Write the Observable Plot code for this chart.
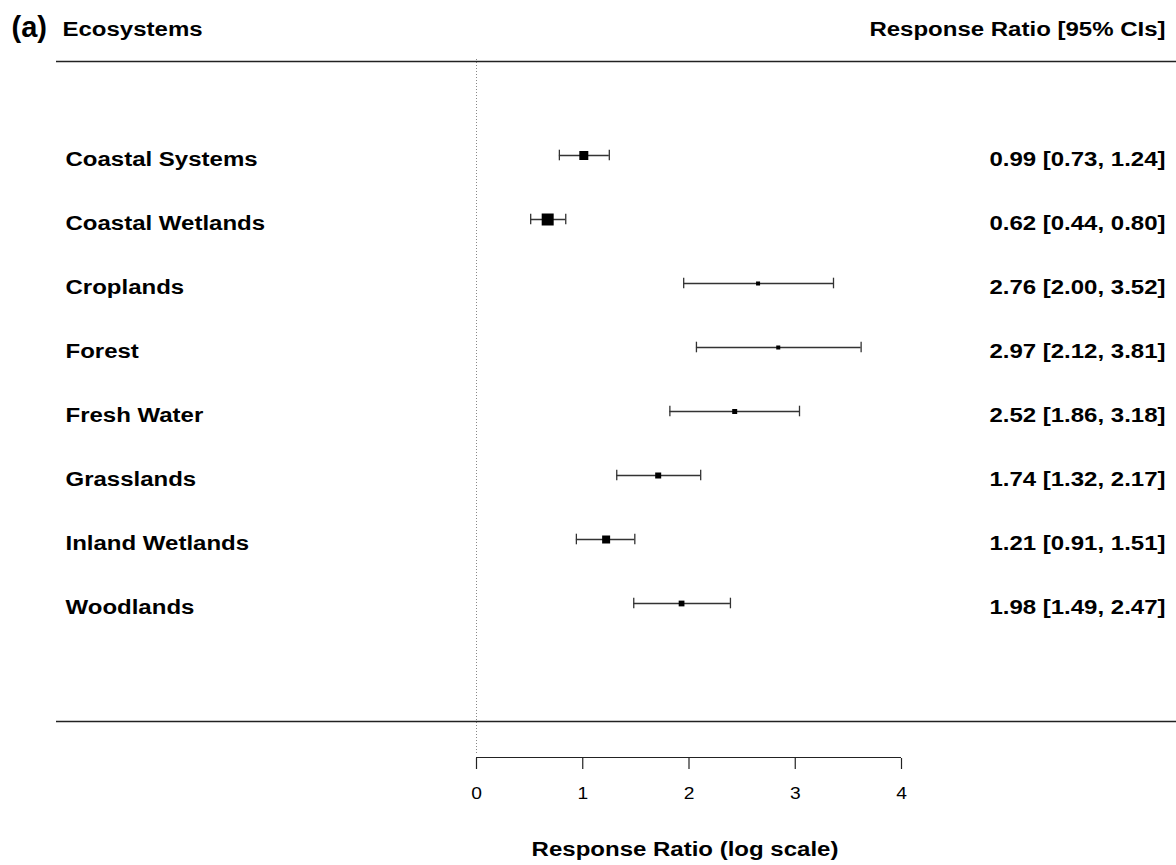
<!DOCTYPE html>
<html>
<head>
<meta charset="utf-8">
<script src="https://cdn.jsdelivr.net/npm/d3@7"></script>
<script src="https://cdn.jsdelivr.net/npm/@observablehq/plot@0.6"></script>
<style>
  html, body { margin: 0; padding: 0; background: #ffffff; }
  #chart svg { display: block; }
</style>
</head>
<body>
<div id="chart"></div>
<script>
// ---- Data ----
const ecosystems = [
  "Coastal Systems", "Coastal Wetlands", "Croplands", "Forest",
  "Fresh Water", "Grasslands", "Inland Wetlands", "Woodlands"
];
// plotted point estimates and CI ends, as drawn on the axis
const estimates = [1.01, 0.67, 2.65, 2.84, 2.43, 1.71, 1.22, 1.93];
const ciLower   = [0.78, 0.51, 1.95, 2.07, 1.82, 1.32, 0.94, 1.48];
const ciUpper   = [1.25, 0.84, 3.36, 3.62, 3.04, 2.11, 1.49, 2.39];
// relative weights (box area)
const weights   = [19.5, 34.7, 3.9, 3.9, 6.0, 8.7, 15.4, 8.0];
// annotated values on the right
const ciLabels = [
  "0.99 [0.73, 1.24]", "0.62 [0.44, 0.80]", "2.76 [2.00, 3.52]", "2.97 [2.12, 3.81]",
  "2.52 [1.86, 3.18]", "1.74 [1.32, 2.17]", "1.21 [0.91, 1.51]", "1.98 [1.49, 2.47]"
];
const xTicks = [0, 1, 2, 3, 4];
const panelTag = "(a)";
const leftHeader = "Ecosystems";
const rightHeader = "Response Ratio [95% CIs]";
const xTitle = "Response Ratio (log scale)";

const rows = ecosystems.map((name, i) => ({
  name, est: estimates[i], lo: ciLower[i], hi: ciUpper[i], w: weights[i], label: ciLabels[i]
}));

const first = ecosystems[0];
const last = ecosystems[ecosystems.length - 1];
const ink = "#222";
const capInset = 26.7;

const plot = Plot.plot({
  width: 1176,
  height: 865,
  marginLeft: 476,
  marginRight: 275,
  marginTop: 59,
  marginBottom: 107,
  insetTop: 61.8,
  insetBottom: 121.8,
  style: {fontFamily: "'Liberation Sans', Arial, Helvetica, sans-serif", fontSize: "16px", color: "#000", background: "#fff"},
  x: {domain: [0, 4], axis: null, label: null},
  y: {type: "band", domain: ecosystems, padding: 0, axis: null, label: null},
  r: {type: "sqrt", domain: [0, d3.max(weights)], range: [0, 6.77]},
  marks: [
    // dotted reference line at 0
    Plot.ruleX([0], {stroke: "#888", strokeDasharray: "1,2", strokeWidth: 1, insetBottom: 3}),
    // top separator
    Plot.ruleY([first], {dy: -94, insetLeft: -420, insetRight: -275, stroke: ink, strokeWidth: 1.5}),
    // bottom separator
    Plot.ruleY([last], {dy: 118, insetLeft: -420, insetRight: -275, stroke: ink, strokeWidth: 1.5}),
    // x axis line
    Plot.ruleY([last], {dy: 154, stroke: ink, strokeWidth: 1.2}),
    Plot.axisX(xTicks, {anchor: "bottom", tickSize: 11, tickPadding: 18, fontSize: 16, stroke: ink, strokeWidth: 1.2, fill: "#000", label: null}),
    // confidence intervals
    Plot.ruleY(rows, {y: "name", x1: "lo", x2: "hi", stroke: "#333", strokeWidth: 1.3}),
    Plot.tickX(rows, {x: "lo", y: "name", insetTop: capInset, insetBottom: capInset, stroke: "#333", strokeWidth: 1.3}),
    Plot.tickX(rows, {x: "hi", y: "name", insetTop: capInset, insetBottom: capInset, stroke: "#333", strokeWidth: 1.3}),
    // point estimates
    Plot.dot(rows, {x: "est", y: "name", r: "w", symbol: "square", fill: "#000", stroke: null}),
    // row labels
    Plot.text(rows, {y: "name", text: "name", frameAnchor: "left", dx: -411, dy: 4, textAnchor: "start", lineAnchor: "middle", fontWeight: "bold", fontSize: 20, fill: "#000"}),
    Plot.text(rows, {y: "name", text: "label", frameAnchor: "right", dx: 264, dy: 4, textAnchor: "end", lineAnchor: "middle", fontWeight: "bold", fontSize: 20, fill: "#000"}),
    // headers
    Plot.text([panelTag], {frameAnchor: "top-left", dx: -465, dy: -32, textAnchor: "start", lineAnchor: "middle", fontWeight: "bold", fontSize: 29, fill: "#000"}),
    Plot.text([leftHeader], {frameAnchor: "top-left", dx: -414, dy: -30, textAnchor: "start", lineAnchor: "middle", fontWeight: "bold", fontSize: 20, fill: "#000"}),
    Plot.text([rightHeader], {frameAnchor: "top-right", dx: 264, dy: -30, textAnchor: "end", lineAnchor: "middle", fontWeight: "bold", fontSize: 20, fill: "#000"}),
    // axis title
    Plot.text([xTitle], {frameAnchor: "bottom", dx: -4, dy: 91, lineAnchor: "middle", fontWeight: "bold", fontSize: 20, fill: "#000"})
  ]
});

document.getElementById("chart").appendChild(plot);

// the reference's lettering is horizontally wide; stretch glyphs to match
d3.select(plot).selectAll("text").each(function () {
  const len = this.getComputedTextLength();
  if (len > 0) {
    this.setAttribute("textLength", (len * (this.textContent === panelTag ? 1.0 : 1.2)).toFixed(1));
    this.setAttribute("lengthAdjust", "spacingAndGlyphs");
  }
});
</script>
</body>
</html>
